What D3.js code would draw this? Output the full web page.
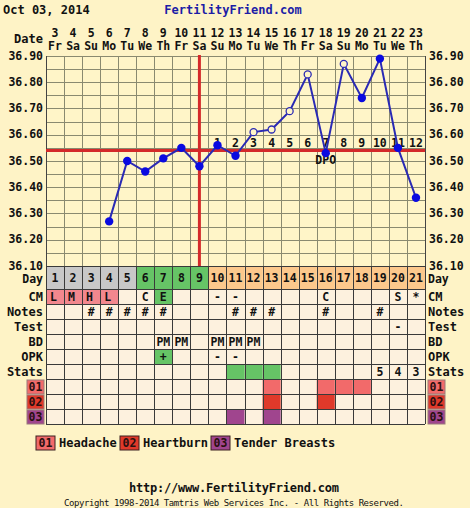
<!DOCTYPE html>
<html><head><meta charset="utf-8">
<script src="https://cdn.jsdelivr.net/npm/d3@7"></script>
<style>body{margin:0;background:#fef3c6;}svg{display:block;}text{font-family:"DejaVu Sans Mono",monospace;font-weight:bold;fill:#111;}</style>
</head><body>
<script>
const dates = [3,4,5,6,7,8,9,10,11,12,13,14,15,16,17,18,19,20,21,22,23];
const weekdays = ["Fr","Sa","Su","Mo","Tu","We","Th","Fr","Sa","Su","Mo","Tu","We","Th","Fr","Sa","Su","Mo","Tu","We","Th"];
const cycleDays = d3.range(1,22);
const temps = [null,null,null,36.27,36.50,36.46,36.51,36.55,36.48,36.56,36.52,36.61,36.62,36.69,36.83,36.53,36.87,36.74,36.89,36.55,36.36];
const openPoint = [0,0,0,0,0,0,0,0,0,0,0,1,1,1,1,0,1,0,0,0,0];
const yTicks = [36.10,36.20,36.30,36.40,36.50,36.60,36.70,36.80,36.90];
const coverline = 36.54;
const ovulationDay = 9;
const dpoLabels = ["1","2","3","4","5","6","7","8","9","10","11","12"];
const dayPhase = ["g","g","g","g","g","f","f","f","f","l","l","l","l","l","l","l","l","l","l","l","l"];
const cm = ["L","M","H","L","","C","E","","","-","-","","","","","C","","","","S","*"];
const cmBg = ["p","p","p","p","","","f","","","","","","","","","","","","","",""];
const notes = ["","","#","#","#","#","#","","","","#","#","#","","","#","","","#","",""];
const test = ["","","","","","","","","","","","","","","","","","","","-",""];
const bd = ["","","","","","","PM","PM","","PM","PM","PM","","","","","","","","",""];
const opk = ["","","","","","","+","","","-","-","","","","","","","","","",""];
const opkBg = ["","","","","","","f","","","","","","","","","","","","","",""];
const stats = ["","","","","","","","","","","","","","","","","","","5","4","3"];
const statsBg = ["","","","","","","","","","","f","f","f","","","","","","","",""];
const symptom01 = [0,0,0,0,0,0,0,0,0,0,0,0,1,0,0,1,1,1,0,0,0];
const symptom02 = [0,0,0,0,0,0,0,0,0,0,0,0,1,0,0,1,0,0,0,0,0];
const symptom03 = [0,0,0,0,0,0,0,0,0,0,1,0,1,0,0,0,0,0,0,0,0];
const symptomNames = ["Headache","Heartburn","Tender Breasts"];
const symptomCodes = ["01","02","03"];

const W=470,H=508;
const svg=d3.select("body").append("svg").attr("width",W).attr("height",H);
svg.append("rect").attr("width",W).attr("height",H).attr("fill","#fef3c6");

const x0=46,x1=425;
const x=d3.scaleBand().domain(cycleDays).range([x0,x1]);
const cx=d=>x(d)+x.bandwidth()/2;
const y=d3.scaleLinear().domain([36.1,36.9]).range([266,56]);
const F="11.5px";
const colors={g:"#c8c8c8",f:"#66c466",l:"#fcc88c",p:"#f2878e"};
const symColors=["#f26a6a","#e0392a","#a0458e"];

// title
svg.append("text").attr("x",3).attr("y",14).style("font-size","12px").text("Oct 03, 2014");
svg.append("text").attr("x",233).attr("y",14).attr("text-anchor","middle").style("font-size","12px").style("fill","#1c1ca6").text("FertilityFriend.com");

// date header
svg.append("text").attr("x",43).attr("y",43).attr("text-anchor","end").style("font-size","12px").text("Date");
cycleDays.forEach((d,i)=>{
  svg.append("text").attr("x",cx(d)).attr("y",37).attr("text-anchor","middle").style("font-size",F).text(dates[i]);
  svg.append("text").attr("x",cx(d)).attr("y",50).attr("text-anchor","middle").style("font-size",F).text(weekdays[i]);
});

// plot bg & grid
svg.append("rect").attr("x",x0).attr("y",56).attr("width",x1-x0).attr("height",210).attr("fill","#fff5c8");
const g=svg.append("g");
d3.range(36.1,36.9001,0.05).forEach(v=>{
  g.append("line").attr("x1",x0).attr("x2",x1).attr("y1",Math.round(y(v))+0.5).attr("y2",Math.round(y(v))+0.5).attr("stroke","#8a8a70").attr("stroke-width",1);
});
cycleDays.forEach(d=>{
  g.append("line").attr("x1",Math.round(x(d))+0.5).attr("x2",Math.round(x(d))+0.5).attr("y1",56).attr("y2",266).attr("stroke","#8a8a70");
});
g.append("line").attr("x1",x1+0.5).attr("x2",x1+0.5).attr("y1",56).attr("y2",266).attr("stroke","#444");
g.append("line").attr("x1",x0+0.5).attr("x2",x0+0.5).attr("y1",56).attr("y2",266).attr("stroke","#444");

// y labels
yTicks.forEach(v=>{
  svg.append("text").attr("x",43).attr("y",y(v)+3.5).attr("text-anchor","end").style("font-size",F).text(v.toFixed(2));
  svg.append("text").attr("x",429).attr("y",y(v)+3.5).style("font-size",F).text(v.toFixed(2));
});

// coverline & ovulation
svg.append("line").attr("x1",x0).attr("x2",x1).attr("y1",y(coverline)).attr("y2",y(coverline)).attr("stroke","#d42a2a").attr("stroke-width",3);
svg.append("line").attr("x1",cx(ovulationDay)).attr("x2",cx(ovulationDay)).attr("y1",55).attr("y2",266).attr("stroke","#d42a2a").attr("stroke-width",3);

// DPO labels
dpoLabels.forEach((t,i)=>{
  svg.append("text").attr("x",cx(ovulationDay+1+i)).attr("y",147).attr("text-anchor","middle").style("font-size",F).text(t);
});
svg.append("text").attr("x",cx(16)).attr("y",164).attr("text-anchor","middle").style("font-size",F).text("DPO");

// temp line
const pts=cycleDays.map((d,i)=>({d,t:temps[i],o:openPoint[i]})).filter(p=>p.t!==null);
svg.append("path").datum(pts).attr("fill","none").attr("stroke","#2a2ab4").attr("stroke-width",2)
  .attr("d",d3.line().x(p=>cx(p.d)).y(p=>y(p.t)));
svg.selectAll("circle.pt").data(pts).enter().append("circle").attr("cx",p=>cx(p.d)).attr("cy",p=>y(p.t))
  .attr("r",p=>p.o?3.5:4.2).attr("fill",p=>p.o?"#fff5c8":"#0a0ae0").attr("stroke",p=>p.o?"#2a2ab4":"none").attr("stroke-width",1.3);

// table
const rowTop=[266,289,304,319,334,349,364,379,394,409,424];
const cellBg="#fdf1de";
svg.append("rect").attr("x",x0).attr("y",289).attr("width",x1-x0).attr("height",135).attr("fill",cellBg);
// day row
cycleDays.forEach((d,i)=>{
  svg.append("rect").attr("x",x(d)).attr("y",266).attr("width",x.bandwidth()).attr("height",23).attr("fill",colors[dayPhase[i]]);
  svg.append("text").attr("x",cx(d)).attr("y",282).attr("text-anchor","middle").style("font-size",F).text(d);
});
const rows=[
  {label:"CM",vals:cm,bg:cmBg},
  {label:"Notes",vals:notes},
  {label:"Test",vals:test},
  {label:"BD",vals:bd},
  {label:"OPK",vals:opk,bg:opkBg},
  {label:"Stats",vals:stats,bg:statsBg}
];
rows.forEach((r,ri)=>{
  const top=rowTop[ri+1];
  cycleDays.forEach((d,i)=>{
    const v=r.vals[i];
    const left=(v==="L"||v==="M"||v==="H");
    if(r.bg&&r.bg[i]) svg.append("rect").attr("x",x(d)).attr("y",top).attr("width",x.bandwidth()).attr("height",15).attr("fill",colors[r.bg[i]]);
    if(v) svg.append("text").attr("x",left?x(d)+4:cx(d)).attr("y",top+11.5).attr("text-anchor",left?"start":"middle").style("font-size",F).text(v);
  });
  svg.append("text").attr("x",43).attr("y",top+11.5).attr("text-anchor","end").style("font-size","12px").text(r.label);
  svg.append("text").attr("x",428).attr("y",top+11.5).style("font-size","12px").text(r.label);
});
svg.append("text").attr("x",43).attr("y",283).attr("text-anchor","end").style("font-size",F).text("Day");
svg.append("text").attr("x",428).attr("y",283).style("font-size",F).text("Day");

[symptom01,symptom02,symptom03].forEach((arr,si)=>{
  const top=rowTop[7+si];
  cycleDays.forEach((d,i)=>{
    if(arr[i]) svg.append("rect").attr("x",x(d)).attr("y",top).attr("width",x.bandwidth()).attr("height",15).attr("fill",symColors[si]);
  });
  [27,428].forEach(bx=>{
    svg.append("rect").attr("x",bx).attr("y",top+1).attr("width",17).attr("height",14).attr("fill",symColors[si]).attr("stroke","#9a7a7a").attr("stroke-width",1);
    svg.append("text").attr("x",bx+8.5).attr("y",top+12).attr("text-anchor","middle").style("font-size",F).style("fill","#2a1010").text(symptomCodes[si]);
  });
});
// table grid lines
rowTop.slice(1).forEach(v=>{
  svg.append("line").attr("x1",x0).attr("x2",x1).attr("y1",v+0.5).attr("y2",v+0.5).attr("stroke","#3a3a3a");
});
svg.append("line").attr("x1",x0).attr("x2",x1).attr("y1",266.5).attr("y2",266.5).attr("stroke","#3a3a3a");
cycleDays.concat([22]).forEach(d=>{
  const xx=d===22?x1:x(d);
  svg.append("line").attr("x1",Math.round(xx)+0.5).attr("x2",Math.round(xx)+0.5).attr("y1",266).attr("y2",424).attr("stroke","#3a3a3a");
});

// legend
const legX=[36,120,211];
symptomNames.forEach((n,i)=>{
  svg.append("rect").attr("x",legX[i]).attr("y",436).attr("width",19).attr("height",14).attr("fill",symColors[i]).attr("stroke","#3a2020");
  svg.append("text").attr("x",legX[i]+9.5).attr("y",447).attr("text-anchor","middle").style("font-size",F).style("fill","#2a1010").text(symptomCodes[i]);
  svg.append("text").attr("x",legX[i]+23).attr("y",447).style("font-size","12px").text(n);
});

// footer
svg.append("text").attr("x",234).attr("y",492).attr("text-anchor","middle").style("font-size","12px").attr("textLength",210).text("http://www.FertilityFriend.com");
svg.append("text").attr("x",234).attr("y",506).attr("text-anchor","middle").style("font-size","9px").style("font-weight","normal").attr("textLength",340).text("Copyright 1998-2014 Tamtris Web Services Inc. - All Rights Reserved.");
</script>
</body></html>
